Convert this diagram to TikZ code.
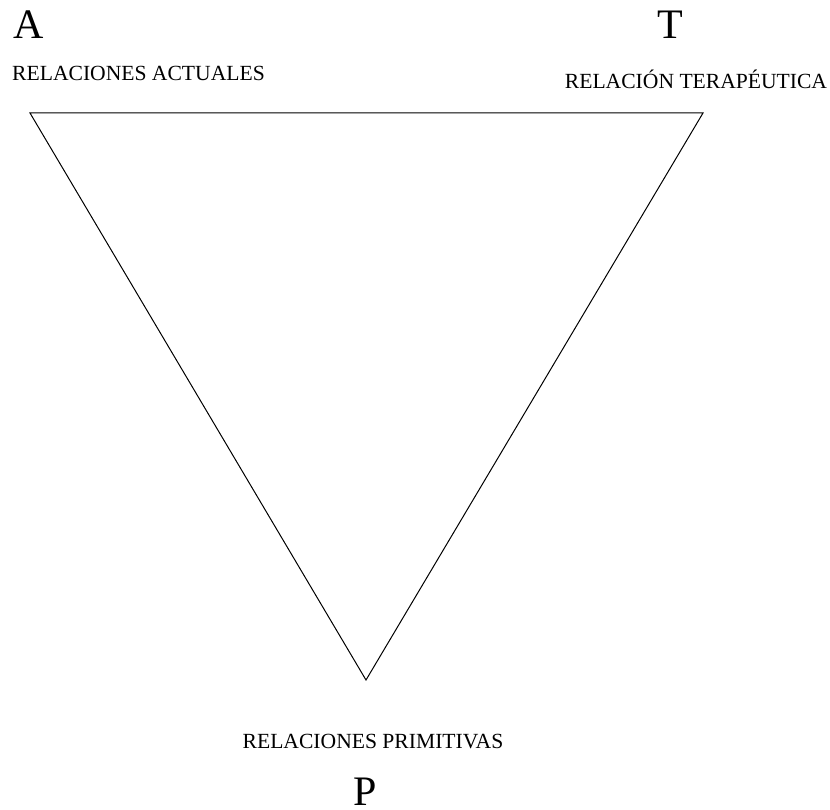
\documentclass[tikz,border=0pt]{standalone}
\usepackage{fontspec}
\setmainfont{Liberation Serif}
\begin{document}
\begin{tikzpicture}[x=1pt,y=-1pt,
  vertexlabel/.style={anchor=base,inner sep=0pt,font=\fontsize{42}{48}\selectfont},
  sidelabel/.style={anchor=base,inner sep=0pt,font=\fontsize{21.6}{26}\selectfont},
  edge/.style={draw=black,line width=1pt,line join=miter}]
  \useasboundingbox[fill=white] (0,0) rectangle (830,810);

  % corners of the triangle
  \coordinate (ca) at (30,113);
  \coordinate (ct) at (703,113);
  \coordinate (cp) at (366,680);

  \path[edge] (ca) -- (ct) -- (cp) -- cycle;

  % vertex letters
  \node[vertexlabel] (la) at (29,39) {A};
  \node[vertexlabel] (lt) at (670.5,39) {T};
  \node[vertexlabel] (lp) at (365,805) {P};

  % descriptions
  \node[sidelabel] (da) at (138.5,80.5) {RELACIONES ACTUALES};
  \node[sidelabel] (dt) at (696,89) {RELACIÓN TERAPÉUTICA};
  \node[sidelabel] (dp) at (373,748) {RELACIONES PRIMITIVAS};
\end{tikzpicture}
\end{document}
